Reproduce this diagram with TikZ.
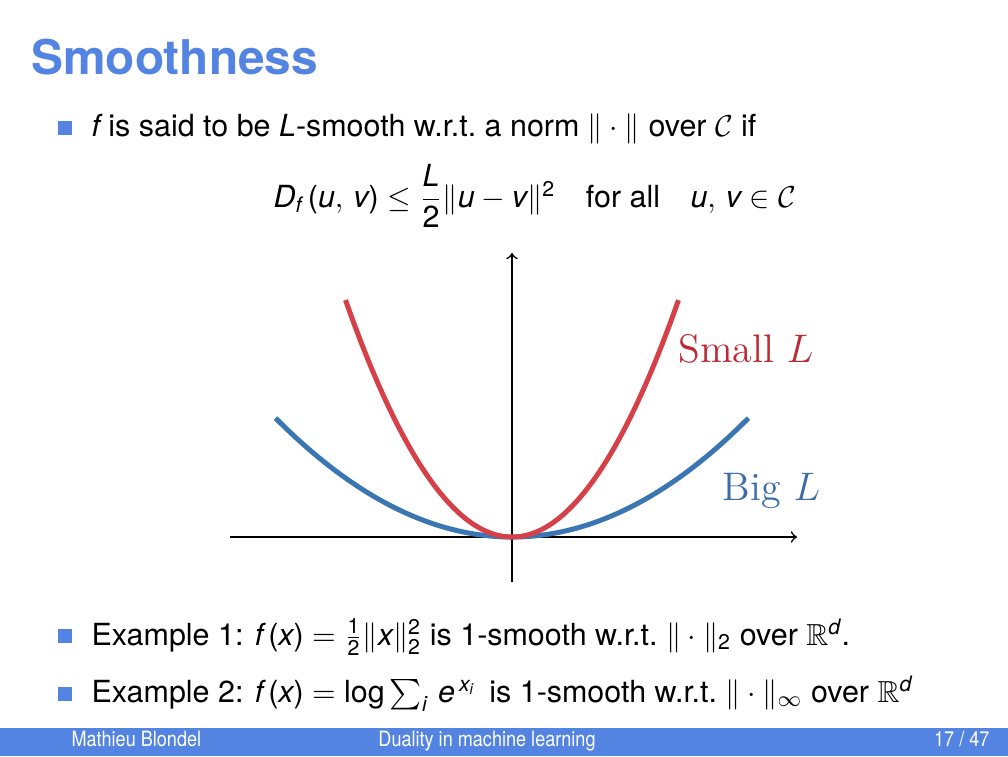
\documentclass[tikz,border=0pt]{standalone}
\usepackage{amsmath,amssymb}
\usepackage{fontspec}
\newfontfamily\hv{TeX Gyre Heros}
\definecolor{bm}{RGB}{84,132,225}
\definecolor{redc}{RGB}{214,64,72}
\definecolor{redt}{RGB}{190,40,52}
\definecolor{bluec}{RGB}{58,118,178}
\definecolor{bluet}{RGB}{60,110,165}
\newcommand\mi[1]{\text{\hv\itshape #1}}
\newcommand\mr[1]{\text{\hv #1}}
\newcommand\bodyfont{\hv\fontsize{11}{13}\selectfont}
\newcommand\narrow[1]{\scalebox{0.86}[1]{#1}}
\tikzset{
  txt/.style={anchor=base west, inner sep=0pt, font=\bodyfont},
  bul/.style={fill=bm, inner sep=0pt, minimum size=1.75mm},
  axis/.style={line width=0.6pt, ->},
  curve/.style={line width=1.8pt, smooth, samples=80},
  foot/.style={inner sep=0pt, text=white, font=\hv\fontsize{7.6}{9}\selectfont},
}
\begin{document}
\begin{tikzpicture}[x=0.127mm,y=-0.127mm]
\useasboundingbox (0,0) rectangle (1008,756);
% title
\node[anchor=base west, inner sep=0pt, text=bm, font=\hv\bfseries\fontsize{17.28}{20}\selectfont] (title) at (31,74) {Smoothness};
% bullet 1
\node[bul] (b1) at (65,128) {};
\node[txt] (t1) at (91,136) {\mi{f} is said to be \mi{L}-smooth w.r.t.\ a norm $\|\cdot\|$ over $\mathcal{C}$ if};
\node[txt] (eq) at (273,207) {$\mi{D}_{\mi{f}}\,\mr{(}\mi{u},\, \mi{v}\mr{)} \leq \dfrac{\mi{L}}{\mr{2}}\|\mi{u} - \mi{v}\|^{\mr{2}}$\quad for all\quad $\mi{u},\, \mi{v} \in \mathcal{C}$};
% graph
\coordinate (O) at (512,537);
\coordinate (xl) at (230,537);
\coordinate (xr) at (797,537);
\coordinate (yb) at (512,582);
\coordinate (yt) at (512,253);
\draw[axis] (xl) -- (xr);
\draw[axis] (yb) -- (yt);
\draw[curve, bluec, domain=-1:1] plot ({512+236.5*\x},{537-119*\x*\x});
\draw[curve, redc, domain=-1:1] plot ({512+166.5*\x},{537-237*\x*\x});
\node[anchor=base west, inner sep=0pt, text=redt, font=\fontsize{14.4}{17}\selectfont] (small) at (678,362) {Small $L$};
\node[anchor=base west, inner sep=0pt, text=bluet, font=\fontsize{14.4}{17}\selectfont] (big) at (722,500) {Big $L$};
% bullet 2
\node[bul] (b2) at (65,636) {};
\node[txt] (t2) at (91,645) {Example 1: $\mi{f}\,\mr{(}\mi{x}\mr{)} = \frac{\mr{1}}{\mr{2}}\|\mi{x}\|_{\mr{2}}^{\mr{2}}$ is 1-smooth w.r.t.\ $\|\cdot\|_{\mr{2}}$ over $\mathbb{R}^{\mi{d}}$.};
% bullet 3
\node[bul] (b3) at (65,694) {};
\node[txt] (t3) at (91,702) {Example 2: $\mi{f}\,\mr{(}\mi{x}\mr{)} = \mathop{\mr{log}}\sum_{\mi{i}}\, \mi{e}^{\,\mi{x}_{\mi{i}}}$\, is 1-smooth w.r.t.\ $\|\cdot\|_\infty$ over $\mathbb{R}^{\mi{d}}$};
% footer
\fill[bm] (0,728) rectangle (1008,756);
\node[foot, anchor=base west] (f1) at (71,746) {\narrow{Mathieu Blondel}};
\node[foot, anchor=base] (f2) at (487,746) {\narrow{Duality in machine learning}};
\node[foot, anchor=base east] (f3) at (990,746) {\narrow{17 / 47}};
\end{tikzpicture}
\end{document}
